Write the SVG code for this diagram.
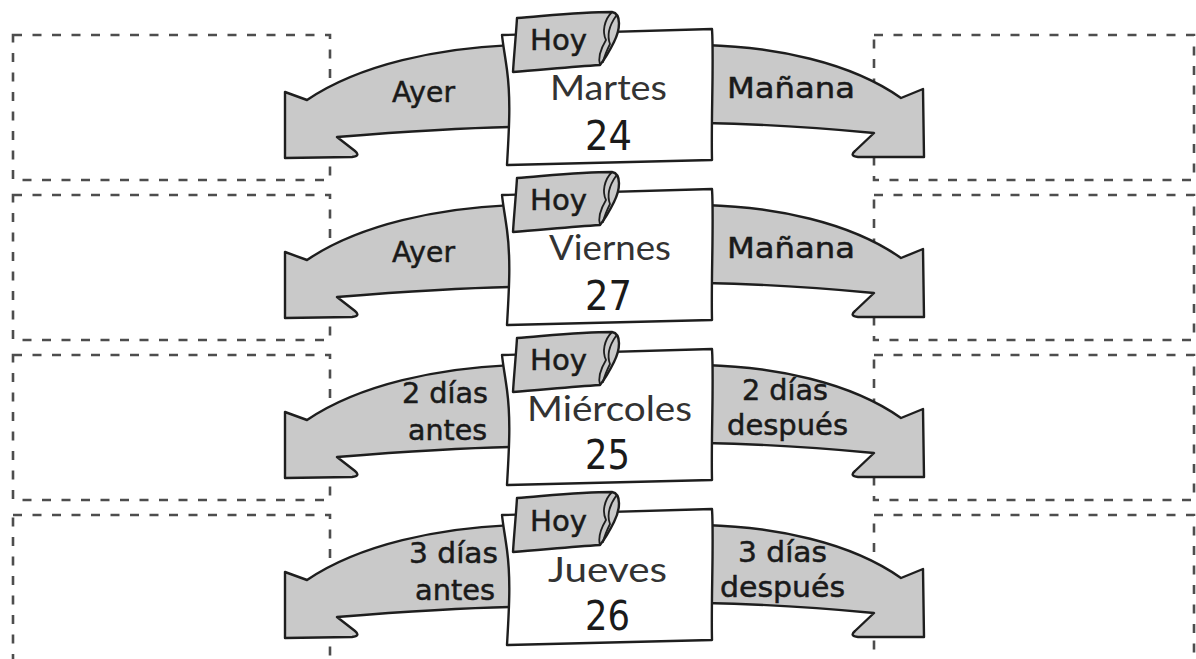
<svg xmlns="http://www.w3.org/2000/svg" xmlns:xlink="http://www.w3.org/1999/xlink" width="1196" height="659" viewBox="0 0 1196 659">
<style>
.dash{fill:none;stroke:#4d4d4d;stroke-width:2.6;stroke-dasharray:9 10.5}
.arrow{fill:#c9c9c9;stroke:#1e1e1e;stroke-width:2.4;stroke-linejoin:round}
.card{fill:#ffffff;stroke:#1e1e1e;stroke-width:2.4;stroke-linejoin:round}
.tab{fill:#c9c9c9;stroke:#1e1e1e;stroke-width:2.4;stroke-linejoin:round}
.curl{fill:none;stroke:#1e1e1e;stroke-width:1.8;stroke-linecap:round}
.lbl{font-family:"DejaVu Sans","Liberation Sans",sans-serif;font-size:29px;fill:#1a1a1a;stroke:#1a1a1a;stroke-width:0.5}
.small{font-size:28px}
.day{font-family:"Lato","DejaVu Sans",sans-serif;font-weight:400;font-size:34px;fill:#333333}
.num{font-family:"DejaVu Sans","Liberation Sans",sans-serif;font-size:41px;fill:#1a1a1a}
</style>
<defs>
<path id="arrowL" class="arrow" d="M 512,45 C 440,48 360,64 307,100 L 285,92 L 285,158 L 352,157 Q 361,156 355,151 L 337,137 C 400,132 460,128 512,127 Z"/>
<path id="arrowR" class="arrow" d="M 705,45 C 775,47 850,62 901,98 L 923,89 L 924,157 L 858,157 Q 849,156 855,151 L 874,133 C 810,127 760,124 705,123 Z"/>
<g id="cardShape">
<path class="card" d="M 502,35 L 712,29 C 714,60 711,120 712,160 L 507,165 C 509,130 511,100 507,70 C 505,55 503,45 502,35 Z"/>
<path class="tab" d="M 517,18 C 545,16 580,12 612,12 C 622,14 620,30 614,42 C 609,52 604,60 600,65 C 570,67 540,70 513,72 C 514,55 516,35 517,18 Z"/>
<path class="curl" d="M 612,12 C 604,20 602,32 606,40 M 616,16 C 609,26 607,36 610,44 M 606,40 C 600,50 598,58 600,65 M 610,44 C 606,52 604,58 603,62"/>
</g>
</defs>

<g id="answer-boxes">
<rect id="box-l1" class="dash" x="13" y="35" width="317" height="145"/>
<rect id="box-r1" class="dash" x="874" y="35" width="320" height="145"/>
<rect id="box-l2" class="dash" x="13" y="195" width="317" height="145"/>
<rect id="box-r2" class="dash" x="874" y="195" width="320" height="145"/>
<rect id="box-l3" class="dash" x="13" y="355" width="317" height="145"/>
<rect id="box-r3" class="dash" x="874" y="355" width="320" height="145"/>
<rect id="box-l4" class="dash" x="13" y="515" width="317" height="147"/>
<rect id="box-r4" class="dash" x="874" y="515" width="320" height="147"/>
</g>

<g id="connectors">
<g id="arrow-l1"><use xlink:href="#arrowL"/><text class="lbl" x="392" y="102" textLength="63" lengthAdjust="spacingAndGlyphs">Ayer</text></g>
<g id="arrow-r1"><use xlink:href="#arrowR"/><text class="lbl" x="727" y="98" textLength="128" lengthAdjust="spacingAndGlyphs">Mañana</text></g>
<g id="arrow-l2"><use xlink:href="#arrowL" transform="translate(0,160)"/><text class="lbl" x="392" y="262" textLength="63" lengthAdjust="spacingAndGlyphs">Ayer</text></g>
<g id="arrow-r2"><use xlink:href="#arrowR" transform="translate(0,160)"/><text class="lbl" x="727" y="258" textLength="128" lengthAdjust="spacingAndGlyphs">Mañana</text></g>
<g id="arrow-l3"><use xlink:href="#arrowL" transform="translate(0,320)"/>
<text class="lbl small" x="402" y="403" textLength="86" lengthAdjust="spacingAndGlyphs">2 días</text>
<text class="lbl small" x="408" y="440" textLength="79" lengthAdjust="spacingAndGlyphs">antes</text></g>
<g id="arrow-r3"><use xlink:href="#arrowR" transform="translate(0,320)"/>
<text class="lbl small" x="742" y="400" textLength="86" lengthAdjust="spacingAndGlyphs">2 días</text>
<text class="lbl small" x="727" y="435" textLength="121" lengthAdjust="spacingAndGlyphs">después</text></g>
<g id="arrow-l4"><use xlink:href="#arrowL" transform="translate(0,480)"/>
<text class="lbl small" x="409" y="563" textLength="89" lengthAdjust="spacingAndGlyphs">3 días</text>
<text class="lbl small" x="415" y="600" textLength="80" lengthAdjust="spacingAndGlyphs">antes</text></g>
<g id="arrow-r4"><use xlink:href="#arrowR" transform="translate(0,480)"/>
<text class="lbl small" x="738" y="562" textLength="89" lengthAdjust="spacingAndGlyphs">3 días</text>
<text class="lbl small" x="720" y="597" textLength="125" lengthAdjust="spacingAndGlyphs">después</text></g>
</g>

<g id="card-1">
<use xlink:href="#cardShape"/>
<text class="lbl" x="530" y="50" textLength="57" lengthAdjust="spacingAndGlyphs">Hoy</text>
<text class="day" x="550" y="100" textLength="117" lengthAdjust="spacingAndGlyphs">Martes</text>
<text class="num" x="585" y="150" textLength="47" lengthAdjust="spacingAndGlyphs">24</text>
</g>
<g id="card-2">
<use xlink:href="#cardShape" transform="translate(0,160)"/>
<text class="lbl" x="530" y="210" textLength="57" lengthAdjust="spacingAndGlyphs">Hoy</text>
<text class="day" x="549" y="260" textLength="122" lengthAdjust="spacingAndGlyphs">Viernes</text>
<text class="num" x="585" y="310" textLength="47" lengthAdjust="spacingAndGlyphs">27</text>
</g>
<g id="card-3">
<use xlink:href="#cardShape" transform="translate(0,320)"/>
<text class="lbl" x="530" y="370" textLength="57" lengthAdjust="spacingAndGlyphs">Hoy</text>
<text class="day" x="527" y="421" textLength="165" lengthAdjust="spacingAndGlyphs">Miércoles</text>
<text class="num" x="585" y="469" textLength="45" lengthAdjust="spacingAndGlyphs">25</text>
</g>
<g id="card-4">
<use xlink:href="#cardShape" transform="translate(0,480)"/>
<text class="lbl" x="530" y="531" textLength="57" lengthAdjust="spacingAndGlyphs">Hoy</text>
<text class="day" x="548" y="582" textLength="119" lengthAdjust="spacingAndGlyphs">Jueves</text>
<text class="num" x="585" y="630" textLength="45" lengthAdjust="spacingAndGlyphs">26</text>
</g>
</svg>
